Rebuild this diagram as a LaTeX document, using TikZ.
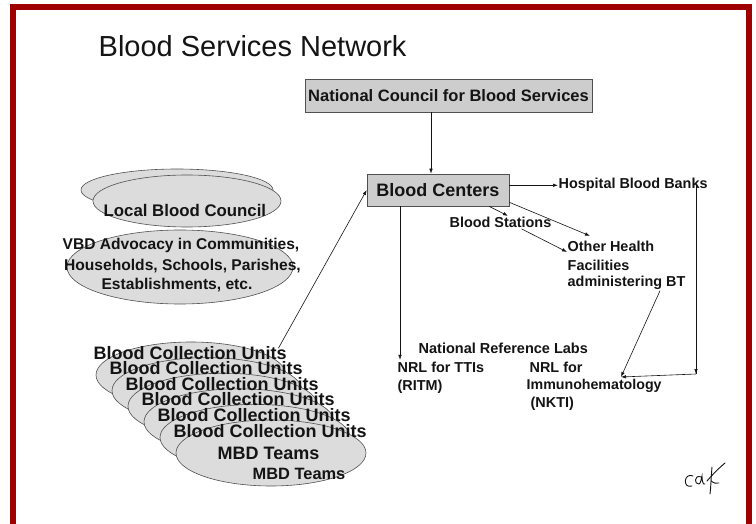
\documentclass[tikz,border=0pt]{standalone}
\usepackage{fontspec}
\setmainfont{Liberation Sans}
\usetikzlibrary{shapes.geometric,arrows.meta}
\definecolor{frame}{RGB}{158,0,0}
\definecolor{ink}{RGB}{20,20,20}
\definecolor{boxfill}{RGB}{205,205,205}
\definecolor{ellfill}{RGB}{220,220,220}
\definecolor{edge}{RGB}{80,80,80}
\newcommand\fsz[1]{\fontsize{#1}{#1}\selectfont\bfseries}
\begin{document}
\begin{tikzpicture}[x=1pt,y=-1pt,
  lbl/.style={inner sep=0.5pt, text=ink, anchor=base west},
  boxnode/.style={draw=edge, fill=boxfill, line width=0.6pt, inner sep=0pt, text=ink},
  ell/.style={ellipse, draw=edge, fill=ellfill, line width=0.6pt, inner sep=0pt},
  arr/.style={-{Latex[length=5pt,width=3.5pt]}, line width=0.6pt, draw=ink},
  ln/.style={line width=0.6pt, draw=ink}]
\useasboundingbox (0,0) rectangle (756,524);
\clip (0,0) rectangle (756,524);
\fill[white] (0,0) rectangle (756,524);
\draw[frame, line width=6pt] (13,7.5) rectangle (748.5,560);

% title
\node[lbl, font=\fontsize{29}{29}\selectfont] (title) at (98,57) {Blood Services Network};

% boxes
\node[boxnode, minimum width=287pt, minimum height=33pt, font=\fsz{16.5}] (nc) at (448.5,95.5) {National Council for Blood Services};
\node[boxnode, minimum width=142pt, minimum height=32pt, font=\fsz{18}] (bc) at (438,190) {Blood Centers};

% right side labels
\node[lbl, font=\fsz{14.4}] (hbb) at (558,189) {Hospital Blood Banks};
\node[lbl, font=\fsz{14.4}] (bs) at (449,228) {Blood Stations};
\node[lbl, font=\fsz{14.4}] (oh1) at (567,252) {Other Health};
\node[lbl, font=\fsz{14.4}] (oh2) at (567,270) {Facilities};
\node[lbl, font=\fsz{14.4}] (oh3) at (567,287) {administering BT};
\node[lbl, font=\fsz{14.5}] (nrl) at (418,353) {National Reference Labs};
\node[lbl, font=\fsz{14.4}] (tti1) at (397,372) {NRL for TTIs};
\node[lbl, font=\fsz{14.4}] (tti2) at (397,390) {(RITM)};
\node[lbl, font=\fsz{14.4}] (imm1) at (529,372) {NRL for};
\node[lbl, font=\fsz{14.2}] (imm2) at (526,389) {Immunohematology};
\node[lbl, font=\fsz{14.4}] (imm3) at (530,407) {(NKTI)};

% left: local blood council
\node[ell, minimum width=192pt, minimum height=42pt] (lbc0) at (177,190) {};
\node[ell, minimum width=188pt, minimum height=52pt] (lbc1) at (187,201) {};
\node[lbl, font=\fsz{16.8}] (lbct) at (103,217) {Local Blood Council};

% VBD advocacy
\node[ell, minimum width=226pt, minimum height=74pt] (vbd) at (180,267) {};
\node[lbl, anchor=base, font=\fsz{15.6}] (vbd1) at (181,250) {VBD Advocacy in Communities,};
\node[lbl, anchor=base, font=\fsz{15.6}] (vbd2) at (182.5,270) {Households, Schools, Parishes,};
\node[lbl, anchor=base, font=\fsz{15.6}] (vbd3) at (177,290) {Establishments, etc.};

% blood collection units stack
\foreach \k in {0,...,5}{
  \node[ell, minimum width=190pt, minimum height=66pt] (e\k) at ({191+16*\k},{375+15.6*\k}) {};
}
\foreach \k in {0,...,5}{
  \node[lbl, font=\fsz{18}] (bcu\k) at ({93+16*\k},{359+15.6*\k}) {Blood Collection Units};
}
\node[lbl, font=\fsz{18}] (mbd1) at (217,459) {MBD Teams};
\node[lbl, font=\fsz{16.4}] (mbd2) at (252,479) {MBD Teams};

% coordinates
\coordinate (ax) at (431,0);
\coordinate (hr) at (696,374);
\coordinate (im) at (621,377);
\coordinate (tti) at ([xshift=3pt,yshift=1pt]tti1.north west);

% connectors
\draw[arr] (nc.south -| ax) -- (bc.north -| ax);
\draw[arr] (bc.east |- hbb.west) -- (hbb.west);
\draw[ln] (hbb.center -| hr) -- (hr);
\draw[arr] ([yshift=4pt]hr) -- (hr);
\draw[arr] (hr) -- (im);
\draw[arr] ([xshift=51pt]bc.south) -- ([xshift=7.5pt,yshift=1pt]bs.north);
\draw[arr] ([yshift=4pt]bc.south east) -- ([xshift=23pt,yshift=5pt]oh1.north west);
\draw[arr] ([xshift=21pt]bs.south) -- (oh1.base west);
\draw[arr] ([xshift=93pt]oh3.south west) -- (im);
\draw[arr] (bc.south -| tti) -- (tti);
\draw[arr] ([xshift=-9pt,yshift=-3pt]bcu0.north east) -- (bc.west);

% signature
\begin{scope}[line width=0.9pt, draw=ink, line cap=round]
\draw (693,476) .. controls (684,472) and (682,489) .. (692,486);
\draw (701,477) .. controls (694,474) and (694,485) .. (699,484) .. controls (701,483) and (701,479) .. (702,476) .. controls (702,481) and (703,485) .. (705,484);
\draw (712,467) .. controls (711,478) and (711,486) .. (710,494);
\draw (707,481) .. controls (713,474) and (719,468) .. (725,463);
\draw (711,481) .. controls (714,483) and (716,484) .. (719,483);
\end{scope}
\end{tikzpicture}
\end{document}
